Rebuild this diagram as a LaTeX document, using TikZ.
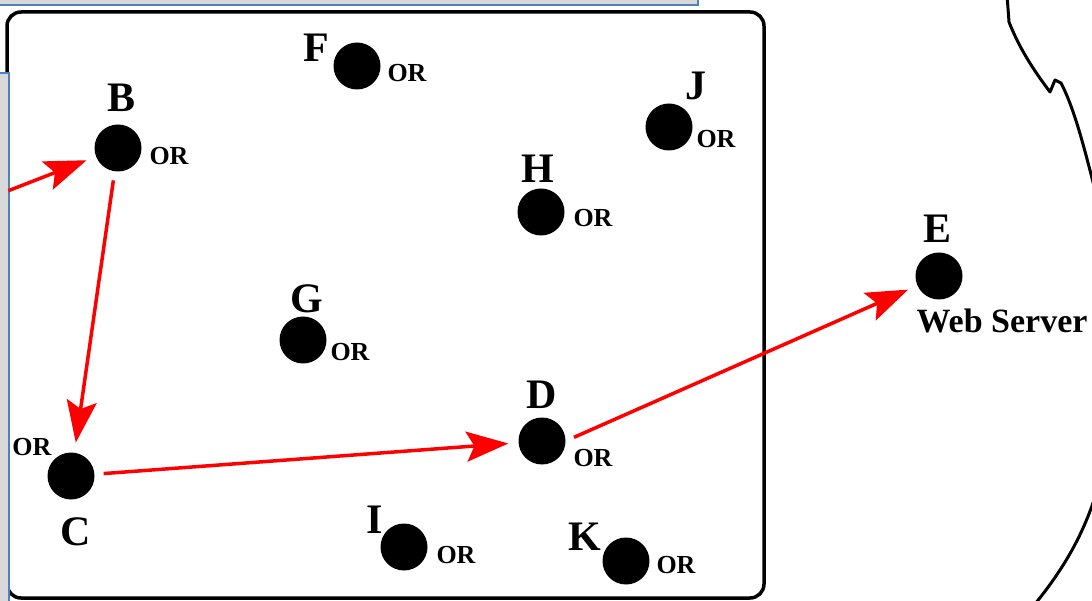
\documentclass[tikz,border=0pt]{standalone}
\usepackage{fontspec}
\setmainfont{Liberation Serif}
\usetikzlibrary{arrows.meta}
\definecolor{panelblue}{RGB}{79,129,189}
\definecolor{panelgray}{RGB}{217,217,217}
\begin{document}
\begin{tikzpicture}[x=1pt, y=-1pt,
    relay/.style={circle, fill=black, minimum size=47pt, inner sep=0pt},
    letter/.style={font=\fontsize{42}{42}\selectfont\bfseries, inner sep=0pt, anchor=base},
    ortag/.style={font=\fontsize{26}{26}\selectfont\bfseries, inner sep=0pt, anchor=base},
    hop/.style={red, line width=3.5pt, -{Stealth[length=42pt,width=30pt,inset=8pt]},
                shorten >=10pt, shorten <=9pt}]
    \useasboundingbox (0,0) rectangle (1092,601);

    % 网络边框
    \draw[line width=3.5pt, rounded corners=14pt] (7,12) rectangle (764,598);

    % 窗口边
    \draw[panelblue, fill=panelgray, line width=1.4pt] (-5,-5) rectangle (698,5);
    \draw[panelblue, fill=panelgray, line width=1.4pt] (-5,73) rectangle (9,610);

    % 云的边缘
    \begin{scope}
        \clip (0,0) rectangle (1092,601);
        \draw[line width=3pt, line join=round]
            (1007,-5) -- (1009,22) .. controls (1020,50) and (1035,72) .. (1050,92)
            -- (1055,80) -- (1061,83) .. controls (1075,110) and (1085,150) .. (1100,210);
        \draw[line width=3pt]
            (1100,480) .. controls (1088,525) and (1068,565) .. (1030,610);
    \end{scope}

    % 洋葱路由器
    \foreach \n/\x/\y/\lx/\ly/\ox/\oy in {
        B/118/148/122/112/169/165,   C/71/476/76/545/32/455,
        D/542/441/542/408/593/466,   F/357/66/316/62/407/82,
        G/303/340/307/313/350/360,   H/541/212/538/183/593/227,
        I/404/547/375/533/456/563,   J/669/127/696/100/716/148,
        K/626/561/585/550/676/573} {
        \node[relay] (\n) at (\x,\y) {};
        \node[letter] (l\n) at (\lx,\ly) {\n};
        \node[ortag] (o\n) at (\ox,\oy) {OR};
    }

    % 服务器
    \node[relay] (E) at (939,276) {};
    \node[letter] (lE) at (937,243) {E};
    \node[font=\fontsize{34}{34}\selectfont\bfseries, inner sep=0pt, anchor=base]
        (web) at (1002,333) {Web Server};

    % 路径
    \coordinate (entry) at (0,194);
    \draw[hop] (entry) -- (B);
    \draw[hop] (B) -- (C);
    \draw[hop] (C) -- (D);
    \draw[hop] (D.east) -- (E);
\end{tikzpicture}
\end{document}
